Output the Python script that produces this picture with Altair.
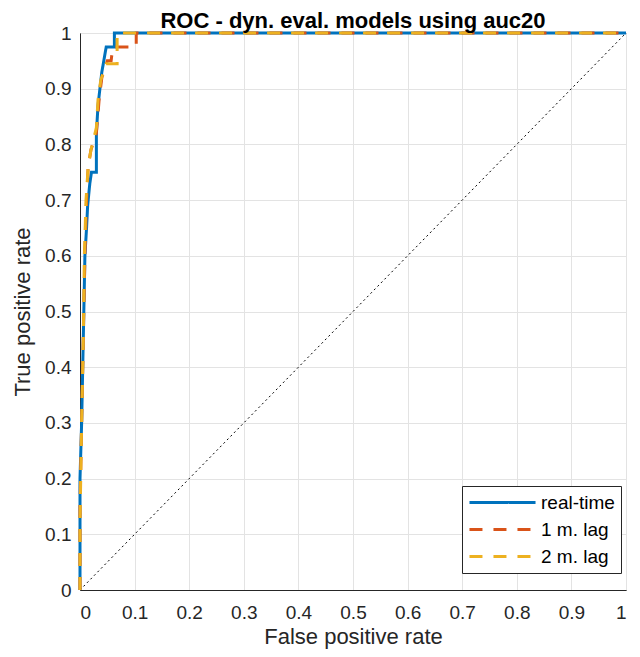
import altair as alt
import pandas as pd

series_names = ["real-time", "1 m. lag", "2 m. lag"]
colors = ["#0072BD", "#D95319", "#EDB120"]

fpr_rt = [0, 0, 0.003, 0.005, 0.007, 0.009, 0.012, 0.014, 0.018, 0.021, 0.030, 0.030, 0.033, 0.040, 0.048, 0.063, 0.063, 1.0]
tpr_rt = [0, 0.20, 0.30, 0.40, 0.50, 0.60, 0.65, 0.69, 0.73, 0.75, 0.75, 0.82, 0.87, 0.93, 0.975, 0.975, 1.0, 1.0]

fpr_l1 = [0, 0, 0.003, 0.006, 0.009, 0.012, 0.015, 0.020, 0.030, 0.035, 0.040, 0.050, 0.057, 0.060, 0.072, 0.086, 0.103, 0.103, 1.0]
tpr_l1 = [0, 0.15, 0.30, 0.45, 0.60, 0.70, 0.76, 0.79, 0.82, 0.88, 0.92, 0.95, 0.95, 0.975, 0.975, 0.975, 0.975, 1.0, 1.0]

fpr_l2 = [0, 0, 0.003, 0.006, 0.008, 0.011, 0.015, 0.020, 0.030, 0.033, 0.038, 0.048, 0.068, 0.068, 1.0]
tpr_l2 = [0, 0.12, 0.30, 0.45, 0.60, 0.70, 0.76, 0.79, 0.83, 0.88, 0.915, 0.945, 0.945, 1.0, 1.0]

diag_x = [0, 1]
diag_y = [0, 1]

rows = []
for name, xs, ys in zip(series_names, [fpr_rt, fpr_l1, fpr_l2], [tpr_rt, tpr_l1, tpr_l2]):
    for i, (a, b) in enumerate(zip(xs, ys)):
        rows.append({"series": name, "fpr": a, "tpr": b, "order": i})
df = pd.DataFrame(rows)
diag = pd.DataFrame({"fpr": diag_x, "tpr": diag_y})

ticks = [round(i * 0.1, 1) for i in range(11)]
font = "Liberation Sans"

xenc = alt.X("fpr:Q", scale=alt.Scale(domain=[0, 1], nice=False),
             axis=alt.Axis(values=ticks, title="False positive rate", format="~g",
                           labelPadding=13, titlePadding=4))
yenc = alt.Y("tpr:Q", scale=alt.Scale(domain=[0, 1], nice=False),
             axis=alt.Axis(values=ticks, title="True positive rate", format="~g",
                           labelPadding=9, titlePadding=10))

diag_layer = alt.Chart(diag).mark_line(color="black", strokeWidth=1, strokeDash=[2, 3]).encode(
    x=xenc, y=yenc
)

lines = alt.Chart(df).mark_line(strokeWidth=3, interpolate="linear").encode(
    x=xenc, y=yenc,
    order="order:Q",
    color=alt.Color("series:N", scale=alt.Scale(domain=series_names, range=colors),
                    sort=series_names,
                    legend=alt.Legend(title=None, orient="none", legendX=382, legendY=453,
                                      symbolType="M-3.67,0H3.67", symbolSize=324, symbolStrokeWidth=3,
                                      symbolOffset=24,
                                      labelFontSize=19, labelFont=font, labelColor="black",
                                      strokeColor="#262626", fillColor="white", padding=6,
                                      rowPadding=6, labelOffset=28)),
    strokeDash=alt.StrokeDash("series:N", scale=alt.Scale(domain=series_names,
                                                          range=[[1, 0], [13, 11], [13, 11]]),
                              sort=series_names, legend=None),
)

chart = alt.layer(diag_layer, lines).properties(
    width=546, height=557,
    title=alt.TitleParams("ROC - dyn. eval. models using auc20", fontSize=22, font=font,
                          fontWeight="bold", color="black", offset=0, dy=9),
    autosize=alt.AutoSizeParams(type="none"),
    padding={"left": 72, "top": 25, "right": 6, "bottom": 59},
).configure_view(stroke="#262626", strokeWidth=1).configure_axis(
    labelFont=font, labelFontSize=19, labelColor="#262626", titleFont=font,
    titleFontSize=22, titleColor="#262626", titleFontWeight="normal",
    gridColor="#e3e3e3", domainColor="#262626", tickColor="#262626", tickSize=0
)

chart.save("out.html", embed_options={"renderer": "svg", "actions": False})
